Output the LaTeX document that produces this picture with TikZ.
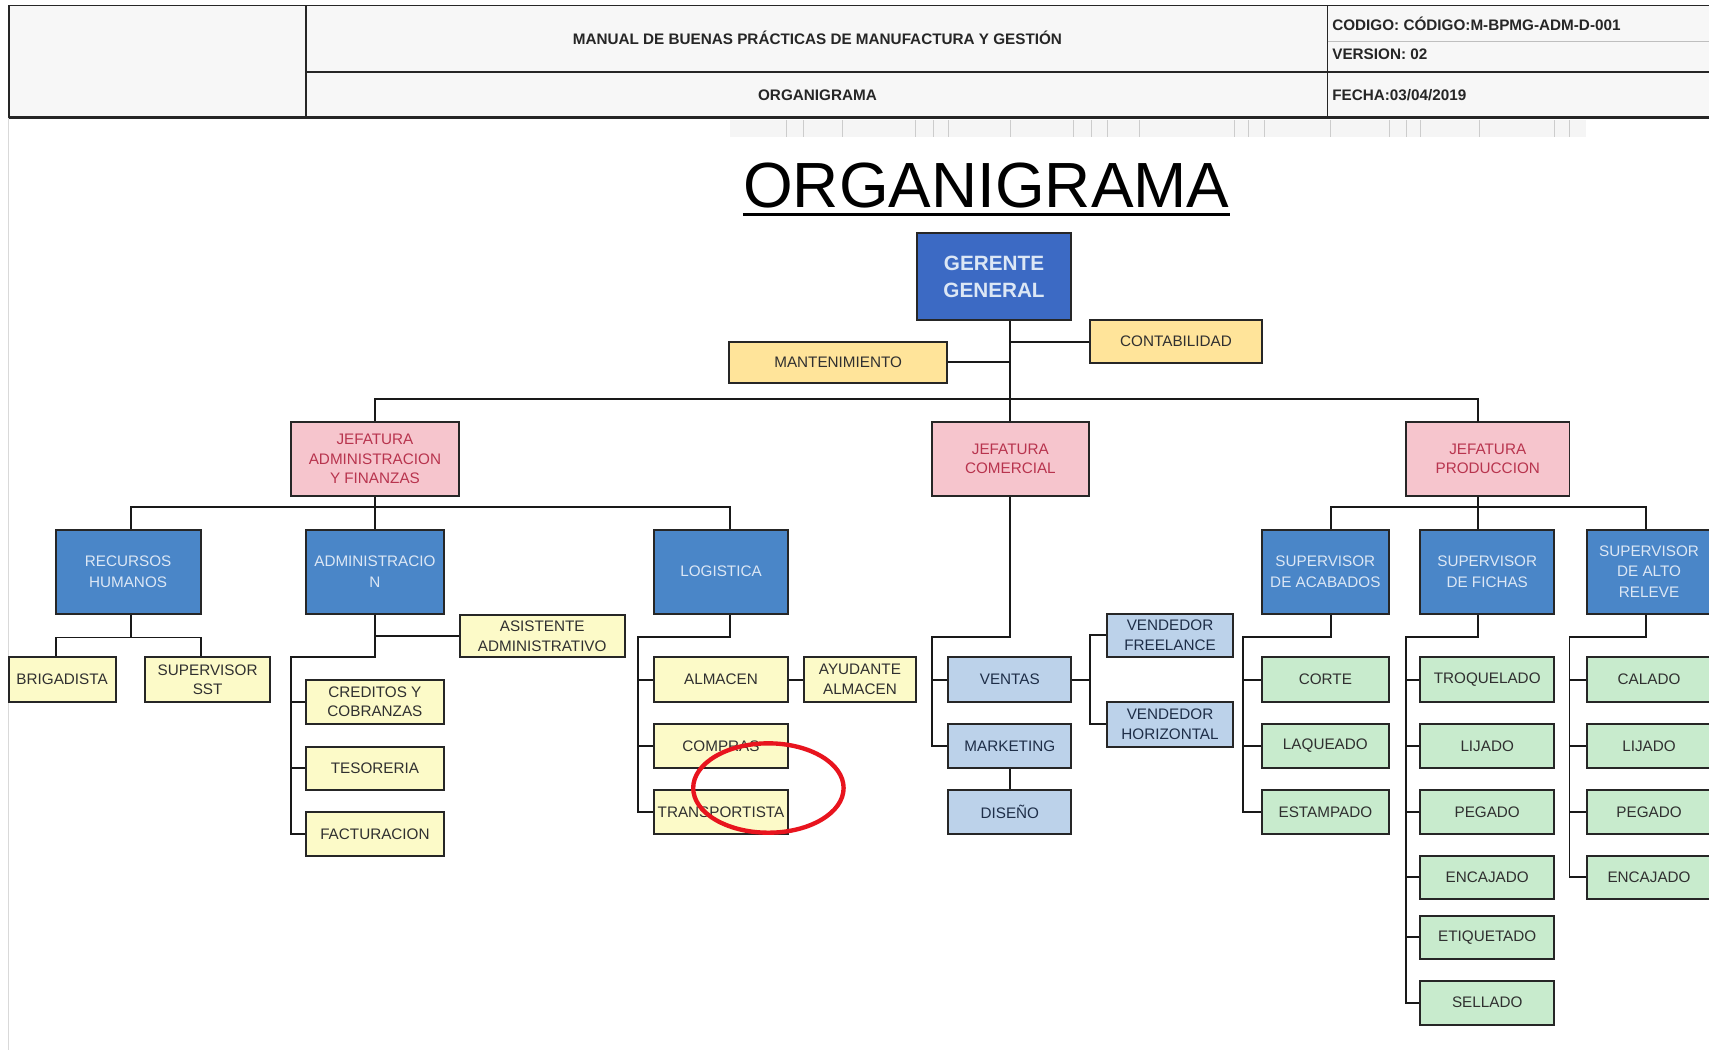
\documentclass[tikz,border=0pt]{standalone}
\usepackage{fontspec}
\setmainfont{Liberation Sans}
\definecolor{gblue}{HTML}{3C6AC4}
\definecolor{sblue}{HTML}{4A86C8}
\definecolor{btxt}{HTML}{DCE7F5}
\definecolor{pinkf}{HTML}{F6C5CD}
\definecolor{pinkt}{HTML}{B8344E}
\definecolor{goldf}{HTML}{FFE49A}
\definecolor{ylwf}{HTML}{FCFAC8}
\definecolor{lbf}{HTML}{BCD2EA}
\definecolor{lbt}{HTML}{1E2E48}
\definecolor{grnf}{HTML}{C8EBCD}
\definecolor{dtxt}{HTML}{303030}
\definecolor{circred}{HTML}{E8141E}
\tikzset{
  bx/.style={draw=black!85, line width=0.9pt, align=center, inner sep=1pt,
    font=\fontsize{7}{9}\selectfont},
  sz/.style 2 args={minimum width=#1*0.5pt, minimum height=#2*0.5pt},
  gerbox/.style={bx, fill=gblue, text=btxt, font=\bfseries\fontsize{9.5}{12}\selectfont},
  bluebox/.style={bx, fill=sblue, text=btxt, font=\fontsize{7}{9.5}\selectfont},
  pinkbox/.style={bx, fill=pinkf, text=pinkt},
  goldbox/.style={bx, fill=goldf, text=dtxt},
  ylwbox/.style={bx, fill=ylwf, text=dtxt},
  lbbox/.style={bx, fill=lbf, text=lbt},
  grnbox/.style={bx, fill=grnf, text=dtxt},
  conn/.style={draw=black!90, line width=0.9pt},
  hdr/.style={inner sep=1pt, font=\bfseries\fontsize{7}{8}\selectfont, text=black!85},
  hline/.style={draw=black!85, line width=0.8pt}
}
\begin{document}
\begin{tikzpicture}[x=0.5pt,y=-0.5pt]
\useasboundingbox (0,0) rectangle (1568,963);
\fill[white] (0,0) rectangle (1568,963);
\begin{scope}
\clip (0,0) rectangle (1568,963);
% ---------- header ----------
\fill[black!3] (8,5) rectangle (1568,108);
\draw[hline] (8,5) -- (1568,5);
\draw[hline, line width=1.4pt] (8,108) -- (1568,108);
\draw[hline] (8,5) -- (8,108);
\draw[hline] (281,5) -- (281,108);
\draw[hline] (1218,5) -- (1218,108);
\draw[hline] (281,66) -- (1568,66);
\draw[black!25, line width=0.5pt] (1218,38) -- (1568,38);
\draw[black!15, line width=0.5pt] (8,108) -- (8,963);
\node[hdr] (h1) at (750,35) {MANUAL DE BUENAS PRÁCTICAS DE MANUFACTURA Y GESTIÓN};
\node[hdr] (h2) at (750,87) {ORGANIGRAMA};
\node[hdr, anchor=west] (h3) at (1220,22) {CODIGO: CÓDIGO:M-BPMG-ADM-D-001};
\node[hdr, anchor=west] (h4) at (1220,50) {VERSION: 02};
\node[hdr, anchor=west] (h5) at (1220,87) {FECHA:03/04/2019};
\fill[black!4] (670,110) rectangle (1455,126);
\foreach \x in {722,737,773,840,856,870,927,985,1001,1016,1045,1133,1145,1160,1221,1275,1290,1303,1357,1426,1440}
  \draw[black!20, line width=0.4pt] (\x,110) -- (\x,126);
% ---------- title ----------
\node[anchor=base, inner sep=0pt, font=\fontsize{29.3}{34}\selectfont] (title) at (905,190) {ORGANIGRAMA};
\path (title.base west) ++(0,7) coordinate (ul1);
\path (title.base east) ++(0,7) coordinate (ul2);
\draw[line width=1.6pt] (ul1) -- (ul2);
% ---------- nodes ----------
\node[gerbox, sz={142}{80}] (ger) at (912,254) {GERENTE\\GENERAL};
\node[goldbox, sz={158}{39}] (cont) at (1079,313.5) {CONTABILIDAD};
\node[goldbox, sz={200}{37}] (mant) at (769,332.5) {MANTENIMIENTO};
\node[pinkbox, sz={154}{68}] (jadm) at (344,421) {JEFATURA\\ADMINISTRACION\\Y FINANZAS};
\node[pinkbox, sz={144}{68}] (jcom) at (927,421) {JEFATURA\\COMERCIAL};
\node[pinkbox, sz={150}{68}] (jpro) at (1365,421) {JEFATURA\\PRODUCCION};
\coordinate (jpin) at (1356,387);
% adm branch
\node[bluebox, sz={133}{77}] (rrhh) at (117.5,524.5) {RECURSOS\\HUMANOS};
\node[bluebox, sz={126}{77}] (adm) at (344,524.5) {ADMINISTRACIO\\N};
\node[bluebox, sz={123}{77}] (log) at (661.5,524.5) {LOGISTICA};
\node[ylwbox, sz={98}{41}] (brig) at (57,623.5) {BRIGADISTA};
\node[ylwbox, sz={115}{41}] (sst) at (190.5,623.5) {SUPERVISOR\\SST};
\node[ylwbox, sz={151}{39}] (asis) at (497.5,583.5) {ASISTENTE\\ADMINISTRATIVO};
\node[ylwbox, sz={126}{40}] (cred) at (344,644) {CREDITOS Y\\COBRANZAS};
\node[ylwbox, sz={126}{40}] (teso) at (344,705) {TESORERIA};
\node[ylwbox, sz={126}{40}] (fact) at (344,765) {FACTURACION};
\node[ylwbox, sz={123}{41}] (alm) at (661.5,623.5) {ALMACEN};
\node[ylwbox, sz={102}{41}] (ayu) at (789,623.5) {AYUDANTE\\ALMACEN};
\node[ylwbox, sz={123}{41}] (comp) at (661.5,684.5) {COMPRAS};
\node[ylwbox, sz={123}{40}] (trans) at (661.5,745) {TRANSPORTISTA};
% comercial
\node[lbbox, sz={113}{41}] (vent) at (926.5,623.5) {VENTAS};
\node[lbbox, sz={113}{41}] (mark) at (926.5,684.5) {MARKETING};
\node[lbbox, sz={113}{40}] (dis) at (926.5,745) {DISEÑO};
\node[lbbox, sz={115}{40}] (vfree) at (1073.5,583) {VENDEDOR\\FREELANCE};
\node[lbbox, sz={115}{41}] (vhor) at (1073.5,664.5) {VENDEDOR\\HORIZONTAL};
% produccion
\node[bluebox, sz={116}{77}] (sacab) at (1216,524.5) {SUPERVISOR\\DE ACABADOS};
\node[bluebox, sz={123}{77}] (sfich) at (1364.5,524.5) {SUPERVISOR\\DE FICHAS};
\node[bluebox, sz={114}{77}] (salto) at (1513,524.5) {SUPERVISOR\\DE ALTO\\RELEVE};
\node[grnbox, sz={116}{41}] (corte) at (1216,623.5) {CORTE};
\node[grnbox, sz={116}{41}] (laq) at (1216,684.5) {LAQUEADO};
\node[grnbox, sz={116}{40}] (estamp) at (1216,745) {ESTAMPADO};
\node[grnbox, sz={123}{41}] (troq) at (1364.5,623.5) {TROQUELADO};
\node[grnbox, sz={123}{41}] (lij1) at (1364.5,684.5) {LIJADO};
\node[grnbox, sz={123}{40}] (peg1) at (1364.5,745) {PEGADO};
\node[grnbox, sz={123}{40}] (enc1) at (1364.5,805) {ENCAJADO};
\node[grnbox, sz={123}{40}] (etiq) at (1364.5,860) {ETIQUETADO};
\node[grnbox, sz={123}{40}] (sell) at (1364.5,920) {SELLADO};
\node[grnbox, sz={114}{41}] (cal) at (1513,623.5) {CALADO};
\node[grnbox, sz={114}{41}] (lij2) at (1513,684.5) {LIJADO};
\node[grnbox, sz={114}{40}] (peg2) at (1513,745) {PEGADO};
\node[grnbox, sz={114}{40}] (enc2) at (1513,805) {ENCAJADO};
% drop points that are not at box centres
\coordinate (rrx) at (120,0);
\coordinate (lgx) at (670,0);
\coordinate (brx) at (51,0);
\coordinate (ssx) at (184,0);
\coordinate (acx) at (1221,0);
\coordinate (alx) at (1510,0);
% ---------- connectors ----------
\draw[conn] (ger.south -| jcom.north) -- (jcom.north);
\draw[conn] (cont.west) -- (cont.west -| jcom.north);
\draw[conn] (mant.east) -- (mant.east -| jcom.north);
\coordinate (bus) at (0,366);
\draw[conn] (jadm.north) |- (jpin |- bus) -- (jpin);
% jefatura adm
\draw[conn] (jadm.south) -- (adm.north);
\draw[conn] (rrx |- rrhh.north) -- ++(0,-20) -| (lgx |- log.north);
\draw[conn] (rrx |- rrhh.south) -- ++(0,21) coordinate (rrb);
\draw[conn] (brx |- brig.north) |- (rrb) -| (ssx |- sst.north);
\coordinate (av) at (267,603);
\draw[conn] (adm.south) |- (asis.west);
\draw[conn] (adm.south) |- (av) |- (fact.west);
\draw[conn] (cred.west) -- (cred.west -| av);
\draw[conn] (teso.west) -- (teso.west -| av);
\coordinate (lv) at (585,584);
\draw[conn] (lgx |- log.south) |- (lv) |- (trans.west);
\draw[conn] (alm.west) -- (alm.west -| lv);
\draw[conn] (comp.west) -- (comp.west -| lv);
\draw[conn] (alm.east) -- (ayu.west);
% comercial
\coordinate (cv) at (855,584);
\draw[conn] (jcom.south) |- (cv) |- (mark.west);
\draw[conn] (vent.west) -- (vent.west -| cv);
\draw[conn] (mark.south) -- (dis.north);
\coordinate (vv) at (1000,600);
\draw[conn] (vfree.west) -- (vfree.west -| vv) |- (vhor.west);
\draw[conn] (vent.east) -- (vent.east -| vv);
% produccion
\draw[conn] (jpin |- jpro.south) -- (jpin |- sfich.north);
\draw[conn] (acx |- sacab.north) -- ++(0,-20) -| (alx |- salto.north);
\coordinate (acv) at (1140,584);
\draw[conn] (acx |- sacab.south) |- (acv) |- (estamp.west);
\draw[conn] (corte.west) -- (corte.west -| acv);
\draw[conn] (laq.west) -- (laq.west -| acv);
\coordinate (fv) at (1290,584);
\draw[conn] (jpin |- sfich.south) |- (fv) |- (sell.west);
\foreach \n in {troq,lij1,peg1,enc1,etiq} \draw[conn] (\n.west) -- (\n.west -| fv);
\coordinate (rv) at (1440,584);
\draw[conn] (alx |- salto.south) |- (rv) |- (enc2.west);
\foreach \n in {cal,lij2,peg2} \draw[conn] (\n.west) -- (\n.west -| rv);
% ---------- red mark ----------
\draw[circred, line width=2pt] (705,723) ellipse [x radius=69, y radius=41];
\end{scope}
\end{tikzpicture}
\end{document}
